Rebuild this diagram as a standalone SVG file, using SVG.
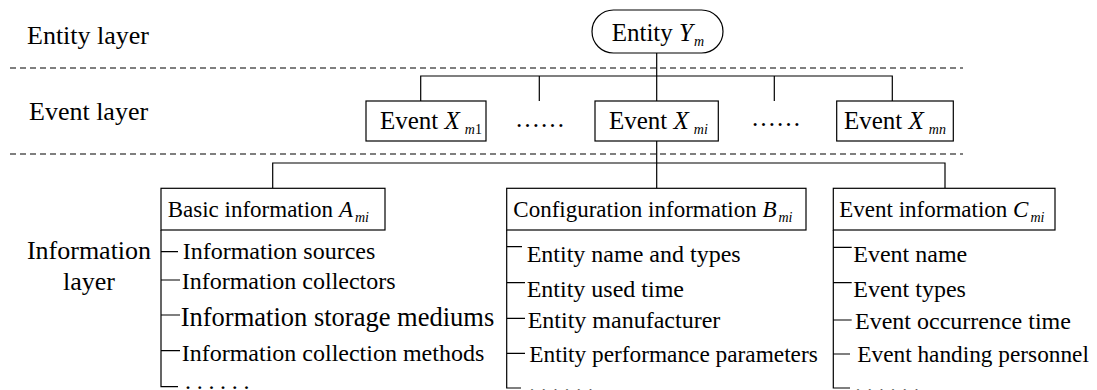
<svg xmlns="http://www.w3.org/2000/svg" width="1097" height="390" viewBox="0 0 1097 390">
<style>
text{font-family:"Liberation Serif","Times New Roman",serif;fill:#000}
.lbl{font-size:26px}
.ev{font-size:25px}
.hd{font-size:23px}
.it{font-size:24px}
.big{font-size:26.5px}
.it23{font-size:23.3px}
.dots{font-size:24px;letter-spacing:5.7px}
.v{font-style:italic}
.sub{font-style:italic;font-size:14px}
.box{fill:#fff;stroke:#000;stroke-width:1.2}
.ln{fill:none;stroke:#000;stroke-width:1.2}
.dash{fill:none;stroke:#000;stroke-width:1.1;stroke-dasharray:6 4}
</style>
<rect width="1097" height="390" fill="#fff"/>

<g id="layer-labels">
<text class="lbl" x="27" y="44">Entity layer</text>
<text class="lbl" x="29" y="120">Event layer</text>
<text class="lbl" x="89" y="259" text-anchor="middle">Information</text>
<text class="lbl" x="89" y="290" text-anchor="middle">layer</text>
</g>
<g id="separators">
<line class="dash" x1="10" y1="68" x2="963" y2="68"/>
<line class="dash" x1="10" y1="154" x2="963" y2="154"/>
</g>

<g id="connectors">
<path class="ln" d="M656.7 53V101M420.7 101V76H892.3V101M539.3 76V101M774.3 76V101"/>
<path class="ln" d="M656.7 141V188M272.7 188V163H945V188"/>
<path class="ln" d="M161 230V386.7H178M161 251.7H178M161 280H180M161 315H180M161 350.7H180"/>
<path class="ln" d="M506.7 230V388H521M506.7 246.7H522M506.7 282.7H525M506.7 318.3H525M506.7 353.3H525"/>
<path class="ln" d="M833.3 230V388H850M833.3 247.3H851.7M833.3 282.7H851.7M833.3 320H851.7M833.3 354H850"/>
</g>

<g id="entity">
<rect class="box" x="592" y="10" width="131" height="43" rx="21.5"/>
<text class="ev" x="611.7" y="41">Entity <tspan class="v">Y</tspan><tspan class="sub" dx="1" dy="5">m</tspan></text>
</g>

<g id="event-m1">
<rect class="box" x="366" y="101" width="120" height="40"/>
<text class="ev" x="380" y="128.5">Event <tspan class="v">X</tspan><tspan class="sub" dx="5" dy="5">m</tspan><tspan style="font-size:14px">1</tspan></text>
</g>
<g id="dots-1"><text class="ev" x="515" y="127">……</text></g>
<g id="event-mi">
<rect class="box" x="595" y="101" width="123.3" height="40"/>
<text class="ev" x="609" y="128.5">Event <tspan class="v">X</tspan><tspan class="sub" dx="5" dy="5">mi</tspan></text>
</g>
<g id="dots-2"><text class="ev" x="751" y="126">……</text></g>
<g id="event-mn">
<rect class="box" x="836.7" y="101" width="116.6" height="40"/>
<text class="ev" x="844" y="128.5">Event <tspan class="v">X</tspan><tspan class="sub" dx="5" dy="5">mn</tspan></text>
</g>

<g id="basic-info">
<rect class="box" x="161" y="188.3" width="224" height="41.7"/>
<text class="hd" x="167.7" y="216.5">Basic information <tspan class="v">A</tspan><tspan class="sub" dx="2" dy="5">mi</tspan></text>
<text class="it" x="182.7" y="259">Information sources</text>
<text class="it" x="181.7" y="289">Information collectors</text>
<text class="big" x="180.7" y="326">Information storage mediums</text>
<text class="it" x="181.7" y="361">Information collection methods</text>
<text class="dots" x="185" y="389">......</text>
</g>

<g id="config-info">
<rect class="box" x="506.7" y="188.3" width="299.3" height="41.7"/>
<text class="hd" x="513.3" y="216.5">Configuration information <tspan class="v">B</tspan><tspan class="sub" dx="2" dy="5">mi</tspan></text>
<text class="it" x="526.7" y="261.7">Entity name and types</text>
<text class="it" x="526.7" y="296.7">Entity used time</text>
<text class="it" x="527.7" y="328.3">Entity manufacturer</text>
<text class="it23" x="529.3" y="361.7">Entity performance parameters</text>
<text class="dots" x="529" y="392">......</text>
</g>

<g id="event-info">
<rect class="box" x="833.3" y="188.3" width="221.7" height="41.7"/>
<text class="hd" x="839.3" y="216.5">Event information <tspan class="v">C</tspan><tspan class="sub" dx="2" dy="5">mi</tspan></text>
<text class="it" x="853.3" y="261.7">Event name</text>
<text class="it" x="853.3" y="296.7">Event types</text>
<text class="it" x="855" y="329.3">Event occurrence time</text>
<text class="it23" x="857.3" y="361.7">Event handing personnel</text>
<text class="dots" x="855" y="392">......</text>
</g>
</svg>
